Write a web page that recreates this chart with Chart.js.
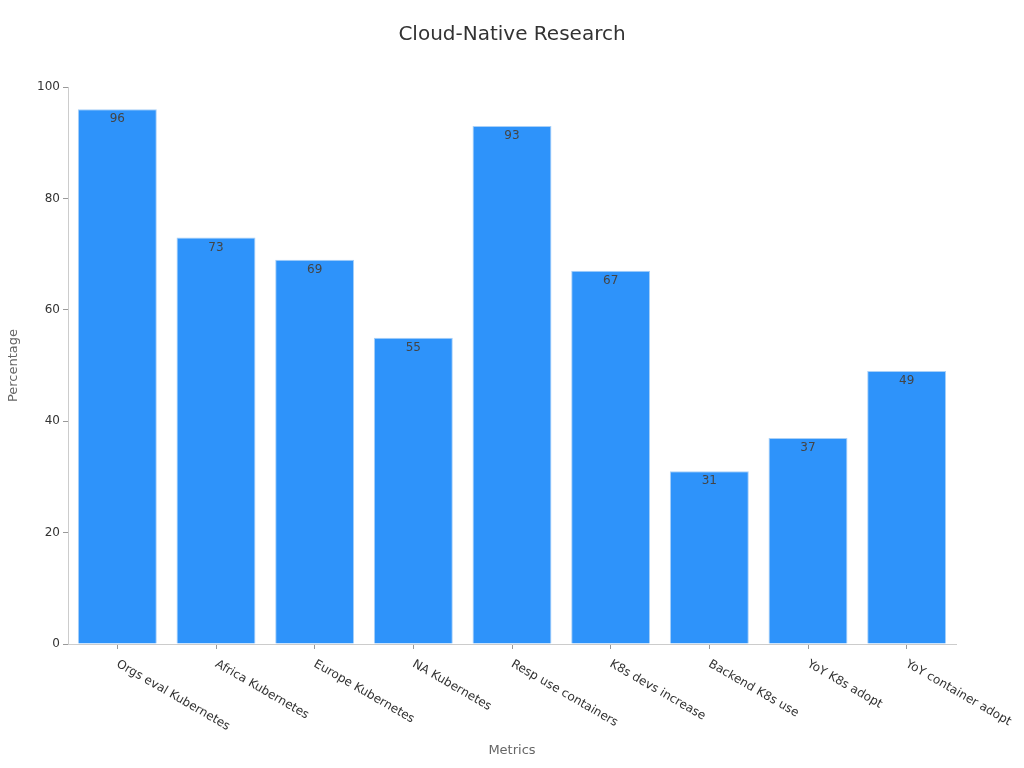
<!DOCTYPE html>
<html>
<head>
<meta charset="utf-8">
<script src="https://cdn.jsdelivr.net/npm/chart.js@4"></script>
<style>
  html, body { margin: 0; padding: 0; background: #fff; }
  #box { width: 1024px; height: 768px; }
</style>
</head>
<body>
<div id="box"><canvas id="miGrafica"></canvas></div>
<script>
const categorias = ['Orgs eval Kubernetes', 'Africa Kubernetes', 'Europe Kubernetes', 'NA Kubernetes',
  'Resp use containers', 'K8s devs increase', 'Backend K8s use', 'YoY K8s adopt', 'YoY container adopt'];
const valores = [96, 73, 69, 55, 93, 67, 31, 37, 49];
const ticksY = [0, 20, 40, 60, 80, 100];

const fuente = 'DejaVu Sans';

// etiquetas del eje x giradas hacia abajo a la derecha
const etiquetasX = {
  id: 'etiquetasX',
  afterDraw(chart) {
    const x = chart.scales.x;
    const ctx = chart.ctx;
    ctx.save();
    ctx.font = '12px ' + fuente;
    ctx.fillStyle = '#333';
    ctx.textAlign = 'left';
    ctx.textBaseline = 'top';
    chart.data.labels.forEach((txt, i) => {
      const px = x.getPixelForValue(i);
      ctx.save();
      ctx.translate(px + 3, x.top + 14);
      ctx.rotate(Math.PI / 6);
      ctx.fillText(txt, 0, 0);
      ctx.restore();
    });
    ctx.restore();
  }
};

// valores dentro de la barra, arriba
const valoresBarra = {
  id: 'valoresBarra',
  afterDatasetsDraw(chart) {
    const ctx = chart.ctx;
    const meta = chart.getDatasetMeta(0);
    ctx.save();
    ctx.font = '12px ' + fuente;
    ctx.fillStyle = '#444';
    ctx.textAlign = 'center';
    ctx.textBaseline = 'middle';
    meta.data.forEach((bar, i) => {
      ctx.fillText(String(chart.data.datasets[0].data[i]), bar.x, bar.y + 10);
    });
    ctx.restore();
  }
};

Chart.defaults.font.family = fuente;

new Chart(document.getElementById('miGrafica'), {
  type: 'bar',
  data: {
    labels: categorias,
    datasets: [{
      data: valores,
      backgroundColor: '#2e93fa',
      borderColor: '#a9d0f7',
      borderWidth: 1,
      categoryPercentage: 0.8,
      barPercentage: 1
    }]
  },
  options: {
    responsive: true,
    maintainAspectRatio: false,
    animation: false,
    layout: { padding: 0 },
    plugins: {
      legend: { display: false },
      tooltip: { enabled: false },
      title: {
        display: true,
        text: 'Cloud-Native Research',
        color: '#333',
        font: { size: 20, weight: 'normal' },
        padding: { top: 23, bottom: 40 }
      }
    },
    scales: {
      x: {
        grid: { display: true, drawOnChartArea: false, drawTicks: true, tickLength: 5, color: '#999', offset: false },
        border: { display: true, color: '#ccc' },
        ticks: { display: false },
        title: { display: true, text: 'Metrics', color: '#666', font: { size: 13 }, padding: { top: 0, bottom: 10 } },
        afterFit(s) { s.height = 124; }
      },
      y: {
        min: 0,
        max: 100,
        afterBuildTicks(s) { s.ticks = ticksY.map(v => ({ value: v })); },
        grid: { display: true, drawOnChartArea: false, drawTicks: true, tickLength: 5, color: '#999' },
        border: { display: true, color: '#ccc' },
        ticks: { color: '#333', font: { size: 12 }, padding: 3 },
        title: { display: true, text: 'Percentage', color: '#666', font: { size: 13 }, padding: { top: 6, bottom: 0 } },
        afterFit(s) { s.width = 68; }
      },
      // eje vacío a la derecha, solo para dejar el margen
      margen: {
        position: 'right',
        display: true,
        grid: { display: false },
        border: { display: false },
        ticks: { display: false },
        afterFit(s) { s.width = 68; }
      }
    }
  },
  plugins: [etiquetasX, valoresBarra]
});
</script>
</body>
</html>
